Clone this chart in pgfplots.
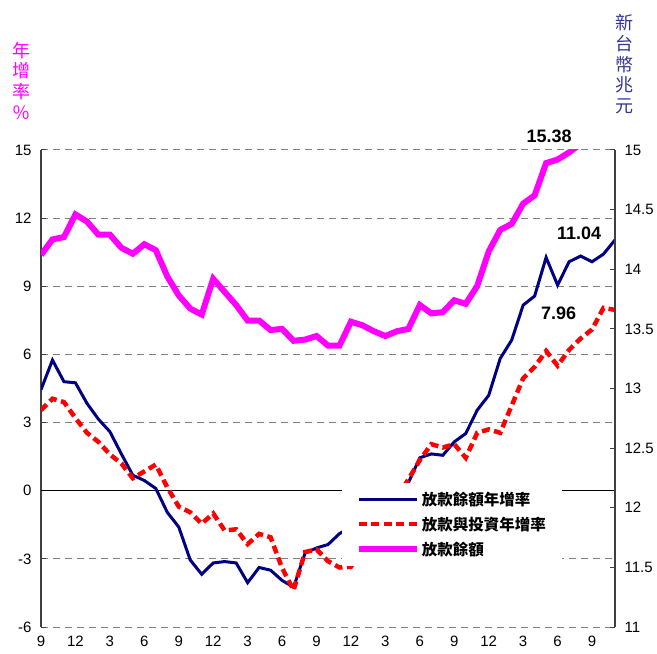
\documentclass[border=0pt]{standalone}
\usepackage{pgfplots}
\pgfplotsset{compat=1.18}
\usepackage{pgfplotstable}
\usepackage{fontspec}
\setmainfont{Liberation Sans}
\newfontfamily\cjk{Noto Sans CJK TC}

\definecolor{loanblue}{RGB}{0,0,128}
\definecolor{invred}{RGB}{255,0,0}
\definecolor{balmag}{RGB}{255,0,255}
\definecolor{unitblue}{RGB}{51,51,153}

% m = months since the first September; growth in %, balance in NT$ trillion
\pgfplotstableread{
m  blue   red    mag
0  4.45   3.55   14.12
1  5.75   4.05   14.25
2  4.80   3.90   14.27
3  4.75   3.20   14.46
4  3.85   2.55   14.40
5  3.15   2.15   14.29
6  2.60   1.60   14.29
7  1.62   1.20   14.18
8  0.68   0.55   14.13
9  0.45   0.85   14.21
10 0.10   1.15   14.16
11 -0.95  0.15   13.94
12 -1.60  -0.70  13.78
13 -3.05  -0.95  13.67
14 -3.68  -1.45  13.62
15 -3.18  -1.00  13.92
16 -3.12  -1.75  13.81
17 -3.18  -1.70  13.70
18 -4.05  -2.35  13.57
19 -3.38  -1.90  13.57
20 -3.50  -2.05  13.49
21 -3.95  -3.40  13.50
22 -4.25  -4.38  13.40
23 -2.75  -2.70  13.41
24 -2.52  -2.58  13.44
25 -2.37  -3.10  13.36
26 -1.89  -3.38  13.36
27 -1.60  -3.35  13.56
28 -1.30  -2.50  13.53
29 -0.90  -1.80  13.48
30 -0.50  -1.00  13.44
31 -0.10  -0.30  13.48
32 0.35   0.50   13.50
33 1.45   1.35   13.70
34 1.62   2.05   13.63
35 1.56   1.90   13.64
36 2.15   2.05   13.74
37 2.52   1.45   13.71
38 3.55   2.55   13.86
39 4.20   2.70   14.15
40 5.82   2.55   14.33
41 6.63   3.75   14.38
42 8.17   4.95   14.55
43 8.57   5.45   14.62
44 10.27  6.15   14.89
45 9.05   5.50   14.92
46 10.08  6.20   14.98
47 10.33  6.70   15.05
48 10.08  7.10   15.15
49 10.42  8.05   15.25
50 11.04  7.96   15.38
}\loans

\begin{document}
\begin{tikzpicture}
\useasboundingbox (-41bp,-27bp) rectangle (616bp,627bp);
\pgfplotsset{
  every axis/.append style={
    scale only axis, width=574bp, height=477bp,
    xmin=0, xmax=50,
    clip mode=individual,
    tick label style={font=\fontsize{15bp}{18bp}\selectfont},
    tick align=inside, major tick length=5bp,
    ytick style={black!75, line width=1bp},
    y axis line style={black!75, line width=1.2bp},
  },
}
\begin{axis}[
  axis y line*=left, axis x line*=bottom,
  x axis line style={draw=none},
  ymin=-6, ymax=15,
  ytick={-6,-3,0,3,6,9,12,15},
  yticklabels={-6,-3,0,3,6,9,12,15},
  xtick={0,3,...,48},
  xticklabels={9,12,3,6,9,12,3,6,9,12,3,6,9,12,3,6,9},
  xtick style={draw=none},
  ymajorgrids,
  grid style={gray, dash pattern=on 7bp off 5bp, line width=1bp},
  yticklabel style={xshift=-6bp},
  xticklabel style={yshift=-6bp},
]
\addplot[black, line width=1.3bp, forget plot] coordinates {(0,0) (50,0)};
\addplot[loanblue, line width=3bp] table[x=m,y=blue] {\loans};
\addplot[invred, line width=4.5bp, dash pattern=on 8bp off 4.5bp] table[x=m,y=red] {\loans};
\node[balmag, font=\cjk\fontsize{18bp}{20.7bp}\selectfont, align=center, inner sep=0pt]
  at (axis description cs:-0.034,1.1457) {年\\增\\率\\％};
\node[unitblue, font=\cjk\fontsize{18bp}{20.7bp}\selectfont, align=center, inner sep=0pt]
  at (axis description cs:1.0174,1.180) {新\\台\\幣\\兆\\元};
\end{axis}

\begin{axis}[
  axis y line*=right, hide x axis,
  ymin=11, ymax=15,
  ytick={11,11.5,12,12.5,13,13.5,14,14.5,15},
  yticklabels={11,11.5,12,12.5,13,13.5,14,14.5,15},
  yticklabel style={xshift=6bp},
  legend image code/.code={\draw[#1] (0bp,0bp) -- (58bp,0bp);},
  legend cell align=left,
  legend style={at={(0.524,0.303)}, anchor=north west, fill=white, draw=none,
    font=\cjk\bfseries\fontsize{15.5bp}{18bp}\selectfont,
    inner xsep=14bp, inner ysep=7bp, row sep=6bp},
]
\addlegendimage{loanblue, line width=3bp}
\addlegendentry{放款餘額年增率}
\addlegendimage{invred, line width=4.5bp, dash pattern=on 8bp off 4.5bp}
\addlegendentry{放款與投資年增率}
\addplot[balmag, line width=6bp] table[x=m,y=mag] {\loans};
\addlegendentry{放款餘額}
\node[font=\bfseries\fontsize{18bp}{20bp}\selectfont, inner sep=0pt] at (axis cs:44.26,15.117) {15.38};
\node[font=\bfseries\fontsize{18bp}{20bp}\selectfont, inner sep=0pt] at (axis cs:46.87,14.304) {11.04};
\node[font=\bfseries\fontsize{18bp}{20bp}\selectfont, inner sep=0pt] at (axis cs:45.09,13.633) {7.96};
\end{axis}
\end{tikzpicture}
\end{document}
